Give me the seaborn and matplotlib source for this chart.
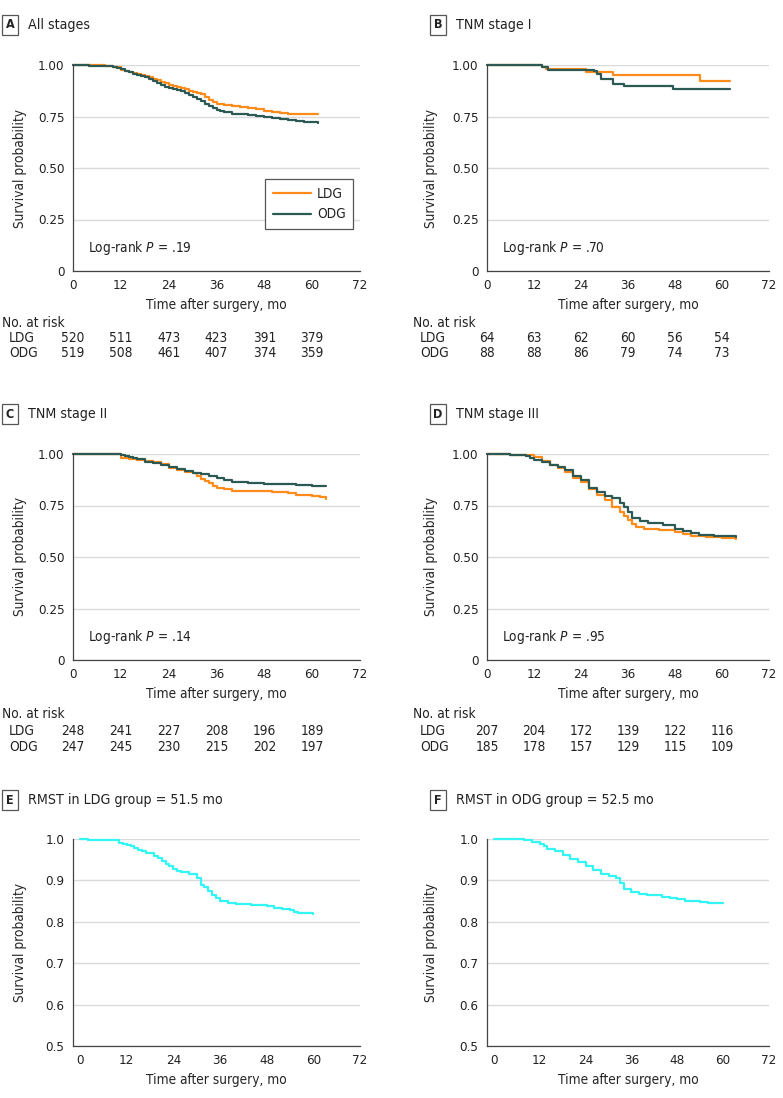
import matplotlib
matplotlib.use("Agg")
import matplotlib.pyplot as plt
from matplotlib.lines import Line2D
import seaborn as sns
import pandas as pd

# survival curves (time in months, survival probability)
a_ldg_t = [0, 3, 8, 10, 12, 13, 14, 15, 16, 17, 18, 19, 20, 21, 22, 23, 24, 25, 26, 27, 28, 29, 30, 31, 32, 33, 34, 35, 36, 38, 40, 42, 44, 46, 48, 50, 52, 54, 61.5]
a_ldg_s = [1.0, 0.998, 0.994, 0.988, 0.978, 0.972, 0.966, 0.960, 0.955, 0.950, 0.945, 0.940, 0.933, 0.925, 0.918, 0.912, 0.905, 0.898, 0.892, 0.887, 0.882, 0.876, 0.870, 0.866, 0.858, 0.845, 0.832, 0.820, 0.812, 0.805, 0.800, 0.796, 0.790, 0.785, 0.778, 0.772, 0.768, 0.763, 0.760]
a_odg_t = [0, 4, 10, 11, 12, 13, 14, 15, 16, 17, 18, 19, 20, 21, 22, 23, 24, 25, 26, 27, 28, 29, 30, 31, 32, 33, 34, 35, 36, 37, 38, 40, 42, 44, 46, 48, 50, 52, 54, 56, 58, 61.5]
a_odg_s = [1.0, 0.997, 0.990, 0.985, 0.980, 0.972, 0.964, 0.958, 0.953, 0.948, 0.942, 0.932, 0.922, 0.912, 0.902, 0.895, 0.890, 0.884, 0.878, 0.872, 0.866, 0.856, 0.846, 0.835, 0.824, 0.812, 0.802, 0.792, 0.783, 0.775, 0.770, 0.763, 0.760, 0.756, 0.753, 0.750, 0.744, 0.740, 0.733, 0.728, 0.724, 0.718]

b_ldg_t = [0, 14, 15, 25.3, 32.1, 54.4, 62]
b_ldg_s = [1.0, 0.99, 0.983, 0.968, 0.952, 0.92, 0.92]
b_odg_t = [0, 14, 15.5, 27.2, 28, 29, 32.1, 35.1, 47.6, 62]
b_odg_s = [1.0, 0.988, 0.978, 0.97, 0.958, 0.932, 0.909, 0.896, 0.885, 0.885]

c_ldg_t = [0, 12, 14, 16, 18, 20, 22, 24, 26, 28, 30, 31, 32, 33, 34, 35, 36, 38, 40, 48, 50, 54, 56, 60, 62, 63.5]
c_ldg_s = [1.0, 0.982, 0.978, 0.972, 0.965, 0.96, 0.952, 0.932, 0.92, 0.915, 0.91, 0.895, 0.88, 0.868, 0.858, 0.845, 0.835, 0.828, 0.822, 0.82, 0.815, 0.81, 0.80, 0.795, 0.79, 0.782]
c_odg_t = [0, 4, 12, 13, 14, 15, 16, 18, 20, 22, 24, 26, 28, 30, 32, 34, 36, 38, 40, 44, 48, 56, 60, 63.5]
c_odg_s = [1.0, 0.998, 0.995, 0.99, 0.985, 0.98, 0.975, 0.963, 0.955, 0.945, 0.937, 0.928, 0.918, 0.908, 0.902, 0.895, 0.885, 0.875, 0.866, 0.858, 0.852, 0.848, 0.845, 0.843]

d_ldg_t = [0, 6, 10, 12, 14, 16, 18, 20, 22, 24, 26, 28, 30, 32, 34, 35, 36, 37, 38, 40, 44, 48, 50, 52, 56, 60, 63.5]
d_ldg_s = [1.0, 0.997, 0.993, 0.985, 0.968, 0.948, 0.932, 0.912, 0.885, 0.862, 0.832, 0.802, 0.775, 0.745, 0.72, 0.70, 0.68, 0.662, 0.645, 0.638, 0.63, 0.62, 0.61, 0.603, 0.595, 0.59, 0.585]
d_odg_t = [0, 6, 10, 11, 12, 14, 16, 18, 20, 22, 24, 26, 28, 30, 32, 34, 35, 36, 37, 39, 41, 45, 48, 50, 52, 54, 58, 63.5]
d_odg_s = [1.0, 0.997, 0.99, 0.98, 0.972, 0.962, 0.945, 0.935, 0.92, 0.895, 0.872, 0.835, 0.815, 0.797, 0.785, 0.762, 0.745, 0.718, 0.69, 0.675, 0.664, 0.655, 0.637, 0.625, 0.615, 0.607, 0.600, 0.597]

e_t = [0, 2, 10, 11, 12, 13, 14, 15, 16, 17, 18, 19, 20, 21, 22, 23, 24, 25, 26, 28, 30, 31, 32, 33, 34, 35, 36, 38, 40, 44, 48, 50, 52, 54, 55, 56, 60]
e_s = [1.0, 0.998, 0.99, 0.988, 0.985, 0.982, 0.978, 0.974, 0.97, 0.967, 0.965, 0.96, 0.955, 0.948, 0.94, 0.935, 0.927, 0.922, 0.92, 0.915, 0.905, 0.89, 0.885, 0.874, 0.865, 0.857, 0.85, 0.845, 0.842, 0.84, 0.837, 0.833, 0.83, 0.828, 0.823, 0.821, 0.82]
f_t = [0, 8, 10, 12, 13, 14, 16, 18, 20, 22, 24, 26, 28, 30, 32, 33, 34, 36, 38, 40, 44, 46, 48, 50, 54, 56, 60]
f_s = [1.0, 0.998, 0.992, 0.988, 0.983, 0.977, 0.97, 0.962, 0.952, 0.945, 0.935, 0.925, 0.915, 0.91, 0.905, 0.893, 0.88, 0.873, 0.868, 0.865, 0.86, 0.857, 0.855, 0.851, 0.848, 0.845, 0.845]

# numbers at risk at 0, 12, 24, 36, 48, 60 months
risk_times = [0, 12, 24, 36, 48, 60]
a_risk_ldg = [520, 511, 473, 423, 391, 379]
a_risk_odg = [519, 508, 461, 407, 374, 359]
b_risk_ldg = [64, 63, 62, 60, 56, 54]
b_risk_odg = [88, 88, 86, 79, 74, 73]
c_risk_ldg = [248, 241, 227, 208, 196, 189]
c_risk_odg = [247, 245, 230, 215, 202, 197]
d_risk_ldg = [207, 204, 172, 139, 122, 116]
d_risk_odg = [185, 178, 157, 129, 115, 109]

p_values = [".19", ".70", ".14", ".95"]

LDG_COLOR = "#FF8C1A"
ODG_COLOR = "#2D5955"
RMST_COLOR = "#33F5F5"
GRID = "#DADADA"
SPINE = "#444444"
LW = 1.6

TICK_FS = 9.6
LABEL_FS = 9.8

sns.set_style("white")
plt.rcParams["font.family"] = ["DejaVu Sans"]
plt.rcParams["font.stretch"] = "condensed"
plt.rcParams["mathtext.fontset"] = "custom"
plt.rcParams["mathtext.rm"] = "DejaVu Sans"
plt.rcParams["mathtext.it"] = "DejaVu Sans:italic"
plt.rcParams["text.color"] = "#222222"

W, H = 783, 1098
fig = plt.figure(figsize=(W / 100, H / 100), dpi=100)


def add_ax(left, top, right, bottom):
    return fig.add_axes([left / W, 1 - bottom / H, (right - left) / W, (bottom - top) / H])


def style_ax(ax, ylab_x):
    for side in ["top", "right"]:
        ax.spines[side].set_visible(False)
    for side in ["left", "bottom"]:
        ax.spines[side].set_color(SPINE)
        ax.spines[side].set_linewidth(0.9)
    ax.tick_params(axis="both", direction="out", length=4, width=0.9, color=SPINE,
                   labelsize=TICK_FS, labelcolor="#222222", pad=2)
    ax.yaxis.grid(True, color=GRID, linewidth=1.0)
    ax.xaxis.grid(False)
    ax.set_axisbelow(True)
    ax.set_xticks([0, 12, 24, 36, 48, 60, 72])
    ax.set_xlabel("Time after surgery, mo", fontsize=LABEL_FS, labelpad=4)
    ax.set_ylabel("Survival probability", fontsize=LABEL_FS)
    ax.yaxis.set_label_coords(ylab_x, 0.5)


def panel_title(x_box, y, letter, text):
    fig.text(x_box / W, 1 - y / H, letter, fontsize=9, fontweight="bold", ha="center", va="center",
             bbox=dict(boxstyle="square,pad=0.3", fc="white", ec="#555555", lw=0.9))
    fig.text((x_box + 18) / W, 1 - y / H, text, fontsize=10.2, ha="left", va="center")


def km_panel(ax, ldg_t, ldg_s, odg_t, odg_s):
    df = pd.concat([
        pd.DataFrame({"time": ldg_t, "surv": ldg_s, "group": "LDG"}),
        pd.DataFrame({"time": odg_t, "surv": odg_s, "group": "ODG"}),
    ])
    sns.lineplot(data=df, x="time", y="surv", hue="group", palette={"LDG": LDG_COLOR, "ODG": ODG_COLOR},
                 drawstyle="steps-post", estimator=None, linewidth=LW, ax=ax, legend=False, clip_on=False)
    ax.set_xlim(0, 72)
    ax.set_ylim(0, 1.0)
    ax.set_yticks([0, 0.25, 0.5, 0.75, 1.0])
    ax.set_yticklabels(["0", "0.25", "0.50", "0.75", "1.00"])


def risk_table(ax, ldg, odg, label_dx, rows):
    ax.annotate("No. at risk", xy=(label_dx, -rows[0]), xycoords="axes pixels", fontsize=LABEL_FS,
                ha="left", va="center", annotation_clip=False)
    for name, vals, dy in [("LDG", ldg, rows[1]), ("ODG", odg, rows[2])]:
        ax.annotate(name, xy=(label_dx + 7, -dy), xycoords="axes pixels", fontsize=LABEL_FS, ha="left",
                    va="center", annotation_clip=False)
        for t, v in zip(risk_times, vals):
            ax.annotate(str(v), xy=(t, -dy), xycoords=("data", "axes pixels"), fontsize=LABEL_FS,
                        ha="center", va="center", annotation_clip=False)


def log_rank(ax, p):
    ax.text(3.8, 0.11, "Log-rank $P$ = " + p, fontsize=LABEL_FS, ha="left", va="center")


# A
ax_a = add_ax(73, 65, 360, 271)
km_panel(ax_a, a_ldg_t, a_ldg_s, a_odg_t, a_odg_s)
style_ax(ax_a, -0.16)
log_rank(ax_a, p_values[0])
risk_table(ax_a, a_risk_ldg, a_risk_odg, -71, [52, 67, 82])
handles = [Line2D([], [], color=LDG_COLOR, lw=LW), Line2D([], [], color=ODG_COLOR, lw=LW)]
leg = ax_a.legend(handles, ["LDG", "ODG"], loc="lower right", bbox_to_anchor=(0.976, 0.204), borderaxespad=0,
                  fancybox=False, edgecolor="#555555", framealpha=1, fontsize=LABEL_FS, handlelength=2.8,
                  handletextpad=0.45, labelspacing=0.5, borderpad=0.55)
leg.get_frame().set_linewidth(0.9)
panel_title(10, 25, "A", "All stages")

# B
ax_b = add_ax(487, 65, 769, 271)
km_panel(ax_b, b_ldg_t, b_ldg_s, b_odg_t, b_odg_s)
style_ax(ax_b, -0.174)
log_rank(ax_b, p_values[1])
risk_table(ax_b, b_risk_ldg, b_risk_odg, -74, [52, 67, 82])
panel_title(438, 25, "B", "TNM stage I")

# C
ax_c = add_ax(73, 454, 360, 660)
km_panel(ax_c, c_ldg_t, c_ldg_s, c_odg_t, c_odg_s)
style_ax(ax_c, -0.16)
log_rank(ax_c, p_values[2])
risk_table(ax_c, c_risk_ldg, c_risk_odg, -71, [54, 71, 87])
panel_title(10, 414, "C", "TNM stage II")

# D
ax_d = add_ax(487, 454, 769, 660)
km_panel(ax_d, d_ldg_t, d_ldg_s, d_odg_t, d_odg_s)
style_ax(ax_d, -0.174)
log_rank(ax_d, p_values[3])
risk_table(ax_d, d_risk_ldg, d_risk_odg, -74, [54, 71, 87])
panel_title(438, 414, "D", "TNM stage III")

# E and F: restricted mean survival time curves
for left, right, ts, ss, ylx, xb, letter, text in [
    (73, 360, e_t, e_s, -0.16, 10, "E", "RMST in LDG group = 51.5 mo"),
    (487, 769, f_t, f_s, -0.174, 438, "F", "RMST in ODG group = 52.5 mo"),
]:
    ax = add_ax(left, 839, right, 1046)
    sns.lineplot(x=ts, y=ss, color=RMST_COLOR, drawstyle="steps-post", estimator=None, linewidth=LW,
                 ax=ax, clip_on=False)
    ax.set_xlim(-1.8, 72)
    ax.set_ylim(0.5, 1.0)
    ax.set_yticks([0.5, 0.6, 0.7, 0.8, 0.9, 1.0])
    ax.set_yticklabels(["0.5", "0.6", "0.7", "0.8", "0.9", "1.0"])
    style_ax(ax, ylx)
    panel_title(xb, 800, letter, text)

fig.savefig("out.png", dpi=100)
